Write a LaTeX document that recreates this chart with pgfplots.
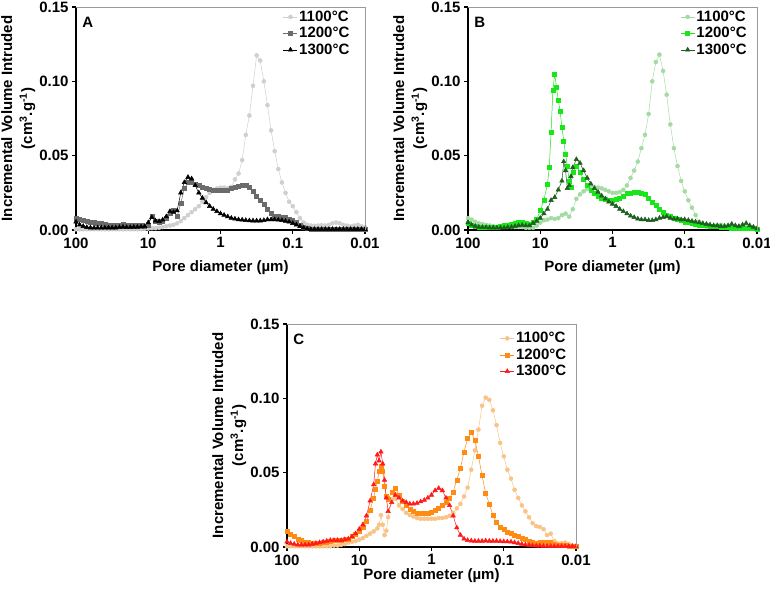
\documentclass[border=0pt]{standalone}
\usepackage{fontspec}
\setmainfont{Liberation Sans}
\usepackage{pgfplots}
\usepackage{pgfplotstable}
\pgfplotsset{compat=1.18}

\definecolor{aone}{HTML}{CFCFCF}
\definecolor{atwo}{HTML}{6B6B6B}
\definecolor{athree}{HTML}{000000}
\definecolor{bone}{HTML}{A3DBA3}
\definecolor{btwo}{HTML}{19E619}
\definecolor{bthree}{HTML}{1E5E1E}
\definecolor{cone}{HTML}{FAC386}
\definecolor{ctwo}{HTML}{FF8A14}
\definecolor{cthree}{HTML}{FF1A1A}

% l = log10(pore diameter in micrometre); a = 1100C, b = 1200C, c = 1300C (cm3/g)
\pgfplotstableread{
l a b c
2.00 0.0005 0.0080 0.0055
1.95 0.0005 0.0072 0.0035
1.90 0.0005 0.0065 0.0025
1.85 0.0005 0.0060 0.0018
1.80 0.0005 0.0055 0.0015
1.75 0.0005 0.0050 0.0015
1.70 0.0005 0.0045 0.0015
1.65 0.0005 0.0045 0.0015
1.60 0.0005 0.0040 0.0015
1.55 0.0005 0.0032 0.0015
1.50 0.0005 0.0030 0.0015
1.45 0.0005 0.0030 0.0015
1.40 0.0005 0.0035 0.0018
1.35 0.0005 0.0040 0.0020
1.30 0.0005 0.0035 0.0018
1.25 0.0005 0.0030 0.0018
1.20 0.0005 0.0030 0.0020
1.15 0.0005 0.0032 0.0020
1.10 0.0005 0.0030 0.0022
1.05 0.0008 0.0028 0.0025
1.00 0.0010 0.0035 0.0050
0.95 0.0012 0.0090 0.0085
0.90 0.0012 0.0062 0.0062
0.85 0.0015 0.0050 0.0058
0.80 0.0020 0.0060 0.0068
0.75 0.0025 0.0080 0.0090
0.70 0.0030 0.0110 0.0125
0.65 0.0035 0.0130 0.0120
0.60 0.0045 0.0090 0.0130
0.55 0.0060 0.0180 0.0250
0.50 0.0080 0.0280 0.0320
0.45 0.0100 0.0320 0.0355
0.40 0.0120 0.0320 0.0345
0.35 0.0140 0.0310 0.0300
0.30 0.0160 0.0300 0.0250
0.25 0.0190 0.0290 0.0215
0.20 0.0220 0.0280 0.0185
0.15 0.0250 0.0275 0.0160
0.10 0.0270 0.0270 0.0140
0.05 0.0280 0.0270 0.0125
0.00 0.0285 0.0265 0.0110
-0.05 0.0285 0.0265 0.0100
-0.10 0.0280 0.0270 0.0090
-0.15 0.0290 0.0280 0.0080
-0.20 0.0340 0.0290 0.0075
-0.25 0.0380 0.0295 0.0070
-0.30 0.0470 0.0300 0.0068
-0.35 0.0640 0.0300 0.0065
-0.40 0.0770 0.0285 0.0063
-0.45 0.0970 0.0260 0.0062
-0.50 0.1175 0.0230 0.0062
-0.55 0.1140 0.0200 0.0062
-0.60 0.1000 0.0170 0.0065
-0.65 0.0840 0.0140 0.0070
-0.70 0.0670 0.0110 0.0070
-0.75 0.0530 0.0095 0.0070
-0.80 0.0410 0.0090 0.0068
-0.85 0.0320 0.0085 0.0065
-0.90 0.0250 0.0085 0.0060
-0.95 0.0190 0.0075 0.0055
-1.00 0.0160 0.0065 0.0045
-1.05 0.0120 0.0050 0.0035
-1.10 0.0080 0.0035 0.0025
-1.15 0.0050 0.0020 0.0015
-1.20 0.0035 0.0010 0.0008
-1.25 0.0030 0.0006 0.0005
-1.30 0.0028 0.0005 0.0005
-1.35 0.0030 0.0005 0.0005
-1.40 0.0032 0.0005 0.0005
-1.45 0.0030 0.0005 0.0005
-1.50 0.0035 0.0005 0.0005
-1.55 0.0045 0.0005 0.0005
-1.60 0.0050 0.0005 0.0005
-1.65 0.0045 0.0005 0.0005
-1.70 0.0035 0.0005 0.0005
-1.75 0.0030 0.0005 0.0005
-1.80 0.0025 0.0005 0.0005
-1.85 0.0030 0.0005 0.0005
-1.90 0.0035 0.0005 0.0005
-1.95 0.0025 0.0005 0.0005
-2.00 0.0020 0.0005 0.0005
}\tabA

\pgfplotstableread{
l a b c
2.00 0.0080 0.0045 0.0050
1.95 0.0070 0.0035 0.0035
1.90 0.0055 0.0025 0.0025
1.85 0.0045 0.0020 0.0020
1.80 0.0040 0.0020 0.0018
1.75 0.0035 0.0020 0.0018
1.70 0.0030 0.0020 0.0015
1.65 0.0025 0.0020 0.0015
1.60 0.0020 0.0020 0.0015
1.55 0.0020 0.0025 0.0015
1.50 0.0020 0.0030 0.0015
1.45 0.0020 0.0035 0.0018
1.40 0.0020 0.0040 0.0020
1.35 0.0020 0.0045 0.0025
1.30 0.0020 0.0050 0.0030
1.25 0.0020 0.0050 0.0032
1.20 0.0015 0.0045 0.0030
1.15 0.0015 0.0040 0.0030
1.10 0.0015 0.0050 0.0045
1.05 0.0030 0.0070 0.0060
1.00 0.0050 0.0130 0.0080
0.95 0.0065 0.0200 0.0110
0.90 0.0070 0.0310 0.0140
0.875 nan 0.0420 nan
0.85 0.0080 0.0660 0.0200
0.825 nan 0.0940 nan
0.80 0.0075 0.1050 0.0220
0.775 nan 0.0960 nan
0.75 0.0080 0.0870 0.0270
0.725 nan 0.0800 nan
0.70 0.0100 0.0690 0.0330
0.675 nan 0.0600 0.0460
0.65 0.0110 0.0510 0.0400
0.625 nan 0.0430 0.0280
0.60 0.0090 0.0330 0.0300
0.575 nan 0.0290 0.0360
0.55 0.0140 0.0390 0.0420
0.50 0.0210 0.0430 0.0475
0.45 0.0240 0.0390 0.0450
0.40 0.0260 0.0340 0.0400
0.35 0.0275 0.0300 0.0350
0.30 0.0285 0.0270 0.0310
0.25 0.0290 0.0245 0.0280
0.20 0.0285 0.0225 0.0255
0.15 0.0280 0.0215 0.0230
0.10 0.0270 0.0205 0.0210
0.05 0.0260 0.0200 0.0190
0.00 0.0250 0.0200 0.0175
-0.05 0.0250 0.0205 0.0160
-0.10 0.0255 0.0215 0.0140
-0.15 0.0270 0.0230 0.0125
-0.20 0.0300 0.0245 0.0110
-0.25 0.0350 0.0250 0.0095
-0.30 0.0400 0.0255 0.0085
-0.35 0.0460 0.0255 0.0075
-0.40 0.0550 0.0250 0.0070
-0.45 0.0640 0.0240 0.0070
-0.50 0.0780 0.0215 0.0065
-0.55 0.1000 0.0190 0.0065
-0.60 0.1130 0.0165 0.0070
-0.65 0.1180 0.0140 0.0080
-0.70 0.1070 0.0120 0.0085
-0.75 0.0910 0.0100 0.0090
-0.80 0.0710 0.0090 0.0080
-0.85 0.0550 0.0080 0.0075
-0.90 0.0430 0.0075 0.0075
-0.95 0.0330 0.0065 0.0070
-1.00 0.0260 0.0055 0.0070
-1.05 0.0200 0.0050 0.0065
-1.10 0.0150 0.0045 0.0060
-1.15 0.0100 0.0040 0.0055
-1.20 0.0055 0.0035 0.0050
-1.25 0.0035 0.0030 0.0045
-1.30 0.0020 0.0030 0.0040
-1.35 0.0020 0.0025 0.0035
-1.40 0.0025 0.0025 0.0030
-1.45 0.0030 0.0025 0.0030
-1.50 0.0035 0.0020 0.0025
-1.55 0.0030 0.0020 0.0025
-1.60 0.0025 0.0020 0.0030
-1.65 0.0025 0.0015 0.0040
-1.70 0.0020 0.0015 0.0030
-1.75 0.0025 0.0015 0.0025
-1.80 0.0020 0.0015 0.0035
-1.85 0.0020 0.0010 0.0045
-1.90 0.0015 0.0010 0.0030
-1.95 0.0015 0.0010 0.0020
-2.00 0.0010 0.0005 0.0010
}\tabB

\pgfplotstableread{
l a b c
2.00 0.0005 0.0105 0.0035
1.95 0.0005 0.0085 0.0025
1.90 0.0005 0.0070 0.0020
1.85 0.0005 0.0055 0.0015
1.80 0.0005 0.0045 0.0015
1.75 0.0005 0.0035 0.0015
1.70 0.0005 0.0030 0.0015
1.65 0.0005 0.0025 0.0020
1.60 0.0005 0.0025 0.0025
1.55 0.0005 0.0025 0.0030
1.50 0.0005 0.0030 0.0035
1.45 0.0005 0.0035 0.0040
1.40 0.0005 0.0040 0.0045
1.35 0.0010 0.0045 0.0045
1.30 0.0010 0.0045 0.0045
1.25 0.0015 0.0045 0.0045
1.20 0.0020 0.0050 0.0050
1.15 0.0030 0.0050 0.0055
1.10 0.0035 0.0070 0.0070
1.05 0.0040 0.0085 0.0090
1.00 0.0050 0.0105 0.0120
0.95 0.0060 0.0130 0.0150
0.90 0.0075 0.0170 0.0210
0.85 0.0090 0.0250 0.0310
0.80 0.0105 0.0330 0.0420
0.775 nan 0.0390 0.0560
0.75 0.0125 0.0440 0.0620
0.725 0.0150 0.0510 0.0580
0.70 0.0215 0.0540 0.0640
0.675 0.0150 0.0510 0.0560
0.65 0.0080 0.0410 0.0450
0.625 0.0110 0.0340 0.0330
0.60 0.0200 0.0320 0.0240
0.55 0.0320 0.0370 0.0300
0.50 0.0325 0.0395 0.0350
0.45 0.0280 0.0350 0.0330
0.40 0.0255 0.0310 0.0310
0.35 0.0230 0.0280 0.0300
0.30 0.0215 0.0255 0.0290
0.25 0.0205 0.0240 0.0290
0.20 0.0195 0.0230 0.0295
0.15 0.0190 0.0225 0.0305
0.10 0.0190 0.0225 0.0315
0.05 0.0190 0.0230 0.0330
0.00 0.0190 0.0235 0.0350
-0.05 0.0190 0.0250 0.0380
-0.10 0.0195 0.0260 0.0395
-0.15 0.0195 0.0280 0.0380
-0.20 0.0200 0.0300 0.0330
-0.25 0.0210 0.0330 0.0280
-0.30 0.0230 0.0370 0.0210
-0.35 0.0260 0.0450 0.0130
-0.40 0.0290 0.0530 0.0080
-0.45 0.0340 0.0640 0.0055
-0.50 0.0400 0.0730 0.0045
-0.55 0.0520 0.0770 0.0042
-0.60 0.0650 0.0720 0.0040
-0.65 0.0790 0.0610 0.0040
-0.70 0.0950 0.0480 0.0040
-0.75 0.1005 0.0360 0.0042
-0.80 0.0990 0.0290 0.0040
-0.85 0.0920 0.0215 0.0040
-0.90 0.0820 0.0165 0.0040
-0.95 0.0700 0.0135 0.0038
-1.00 0.0610 0.0120 0.0037
-1.05 0.0520 0.0100 0.0036
-1.10 0.0460 0.0090 0.0035
-1.15 0.0385 0.0080 0.0030
-1.20 0.0330 0.0070 0.0025
-1.25 0.0280 0.0060 0.0020
-1.30 0.0240 0.0050 0.0015
-1.35 0.0200 0.0040 0.0012
-1.40 0.0160 0.0030 0.0010
-1.45 0.0140 0.0025 0.0008
-1.50 0.0135 0.0030 0.0008
-1.55 0.0120 0.0030 0.0006
-1.60 0.0080 0.0030 0.0006
-1.65 0.0090 0.0030 0.0005
-1.70 0.0040 0.0020 0.0005
-1.75 0.0025 0.0015 0.0005
-1.80 0.0025 0.0010 0.0005
-1.85 0.0030 0.0010 0.0005
-1.90 0.0020 0.0005 0.0005
-1.95 0.0010 0.0005 0.0005
-2.00 0.0005 0.0005 0.0005
}\tabC

\newcommand{\bigfont}{\bfseries\fontsize{15}{17}\selectfont}

\pgfplotsset{
  panel/.style={
    scale only axis, width=289pt, height=223pt,
    xmin=-2, xmax=2, x dir=reverse, ymin=0, ymax=0.15,
    xtick={2,1,0,-1,-2}, xticklabels={100,10,1,0.1,0.01},
    ytick={0,0.05,0.1,0.15}, yticklabels={0.00,0.05,0.10,0.15},
    minor tick num=0,
    axis x line*=bottom, axis y line*=left,
    axis line style={line width=1.6pt, -},
    tick style={black, line width=1.4pt}, major tick length=4pt,
    tick align=outside,
    ticklabel style={font=\bigfont},
    label style={font=\bigfont},
    xlabel={Pore diameter (µm)},
    ylabel={Incremental Volume Intruded\\[3pt](cm\textsuperscript{3}.g\textsuperscript{-1})},
    ylabel style={align=center, at={(axis description cs:-0.2,0.5)}, anchor=center},
    xlabel style={at={(axis description cs:0.5,-0.17)}, anchor=center},
    clip=false,
    every axis plot/.append style={line width=0.5pt},
    legend cell align=left,
    legend style={draw=none, fill=none, font=\bigfont, inner sep=0pt,
      row sep=1.5pt, nodes={inner sep=1.5pt}},
    legend image code/.code={\draw[mark repeat=2,mark phase=2]
      plot coordinates {(0pt,0pt) (7pt,0pt) (14pt,0pt)};},
    extra description/.code={
      \draw[gray!80, line width=0.6pt] (axis description cs:0,1) -- (axis description cs:1,1) -- (axis description cs:1,0);
    },
  },
  s1/.style={mark=*, mark size=2pt},
  s2/.style={mark=square*, mark size=2pt},
  s3/.style={mark=triangle*, mark size=2.6pt},
}

\begin{document}
\begin{tikzpicture}
\useasboundingbox (0pt,0pt) rectangle (770pt,592pt);

\begin{axis}[panel, at={(76pt,362pt)}, anchor=south west,
  legend style={at={(axis description cs:0.952,0.99)}, anchor=north east}]
\addplot[color=aone, s1] table[x=l, y=a] {\tabA};
\addplot[color=atwo, s2] table[x=l, y=b] {\tabA};
\addplot[color=athree, s3] table[x=l, y=c] {\tabA};
\legend{1100°C,1200°C,1300°C}
\node[anchor=north west, inner sep=0pt, font=\bigfont] at (axis description cs:0.021,0.955) {A};
\end{axis}

\begin{axis}[panel, at={(468pt,362pt)}, anchor=south west,
  legend style={at={(axis description cs:0.97,0.99)}, anchor=north east}]
\addplot[color=bone, s1] table[x=l, y=a] {\tabB};
\addplot[color=btwo, s2] table[x=l, y=b] {\tabB};
\addplot[color=bthree, s3] table[x=l, y=c] {\tabB};
\legend{1100°C,1200°C,1300°C}
\node[anchor=north west, inner sep=0pt, font=\bigfont] at (axis description cs:0.021,0.955) {B};
\end{axis}

\begin{axis}[panel, at={(287pt,45pt)}, anchor=south west,
  xlabel style={at={(axis description cs:0.5,-0.13)}, anchor=center},
  legend style={at={(axis description cs:0.972,0.97)}, anchor=north east}]
\addplot[color=cone, s1] table[x=l, y=a] {\tabC};
\addplot[color=ctwo, s2] table[x=l, y=b] {\tabC};
\addplot[color=cthree, s3] table[x=l, y=c] {\tabC};
\legend{1100°C,1200°C,1300°C}
\node[anchor=north west, inner sep=0pt, font=\bigfont] at (axis description cs:0.021,0.955) {C};
\end{axis}
\end{tikzpicture}
\end{document}
